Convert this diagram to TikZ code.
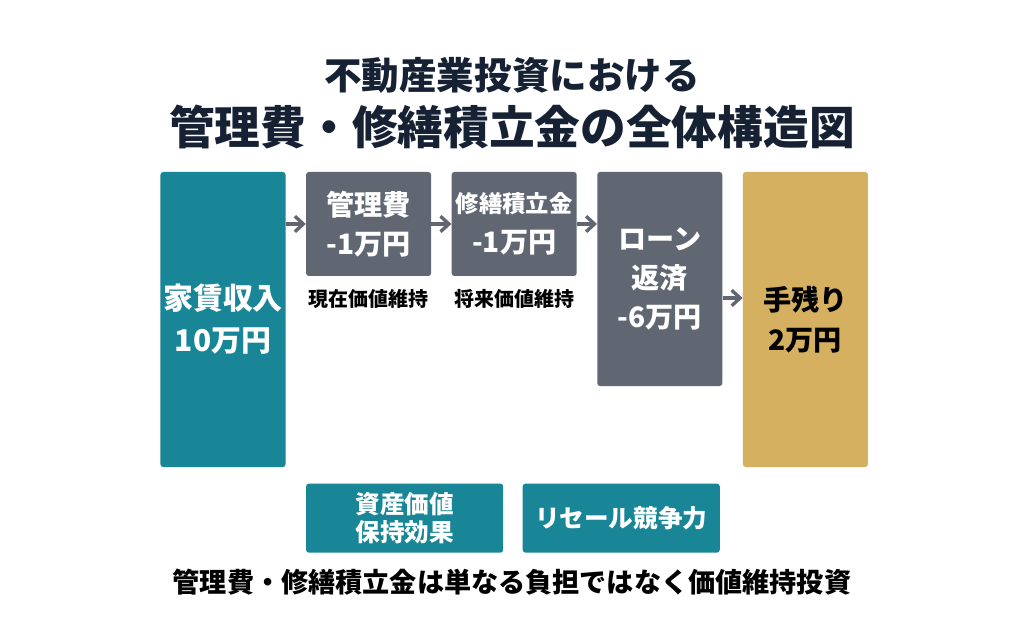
\documentclass[tikz,border=0pt]{standalone}
\usepackage{fontspec}
\setmainfont{Noto Sans CJK JP}
\usetikzlibrary{positioning,arrows.meta}
\definecolor{tealbox}{RGB}{24,134,150}
\definecolor{graybox}{RGB}{96,103,114}
\definecolor{goldbox}{RGB}{213,176,96}
\definecolor{titleink}{RGB}{22,34,52}

\begin{document}
\begin{tikzpicture}[x=0.025cm,y=-0.025cm,node distance=0.5cm,
				box/.style={rectangle, rounded corners=2pt, inner sep=0pt, align=center, text=white, font=\bfseries\fontsize{20}{28}\selectfont, minimum width=3.125cm},
				income/.style={box, fill=tealbox, minimum height=7.375cm},
				cost/.style={box, fill=graybox, minimum height=2.6cm},
				loan/.style={box, fill=graybox, minimum height=5.35cm},
				rest/.style={box, fill=goldbox, text=black, minimum height=7.375cm},
				effect/.style={box, fill=tealbox, minimum width=4.925cm, minimum height=1.725cm, font=\bfseries\fontsize{17.5}{19.5}\selectfont},
				note/.style={font=\bfseries\fontsize{14.2}{16}\selectfont, text=black},
				flow/.style={draw=graybox, line width=2.4pt, -{Straight Barb[length=6pt,width=11pt]}}
			]
			\useasboundingbox (0,0) rectangle (1024,640);
			
			\node[titleink, font=\bfseries\fontsize{26.7}{30}\selectfont] (title_1) at (512,75) {不動産業投資における};
			\node[titleink, font=\bfseries\fontsize{32.5}{36}\selectfont] (title_2) at (512,127) {管理費・修繕積立金の全体構造図};
			
			\node[income, font=\bfseries\fontsize{21.3}{30}\selectfont] (kachin) at (223,319.5) {家賃収入\\10万円};
			\node[cost] (kanri) [right=of kachin.north east, anchor=north west] {管理費\\-1万円};
			\node[cost] (shuzen) [right=of kanri.north east, anchor=north west] {{\fontsize{16.6}{20}\selectfont 修繕積立金}\\-1万円};
			\node[loan] (loan) [right=of shuzen.north east, anchor=north west] {ローン\\返済\\-6万円};
			\node[rest] (temoto) [right=of loan.north east, anchor=north west] {手残り\\2万円};
			
			\node[note] (n_kanri) [below=0.2cm of kanri] {現在価値維持};
			\node[note] (n_shuzen) [below=0.2cm of shuzen] {将来価値維持};
			
			\coordinate (base) at (kachin.south -| kanri.west);
			\node[effect] (shisan) [below=0.4cm of base, anchor=north west] {資産価値\\保持効果};
			\node[effect] (resale) [right=0.475cm of shisan] {リセール競争力};
			
			\node[text=black, font=\bfseries\fontsize{19.3}{22}\selectfont] (summary) at (512,582) {管理費・修繕積立金は単なる負担ではなく価値維持投資};
			
			\draw[flow] (kanri.west -| kachin.east) -- (kanri.west);
			\draw[flow] (kanri.east) -- (shuzen.west);
			\draw[flow] (shuzen.east) -- (shuzen.east -| loan.west);
			\draw[flow] ([yshift=-0.475cm]loan.east) -- ([yshift=-0.475cm]loan.east -| temoto.west);
		\end{tikzpicture}
\end{document}
